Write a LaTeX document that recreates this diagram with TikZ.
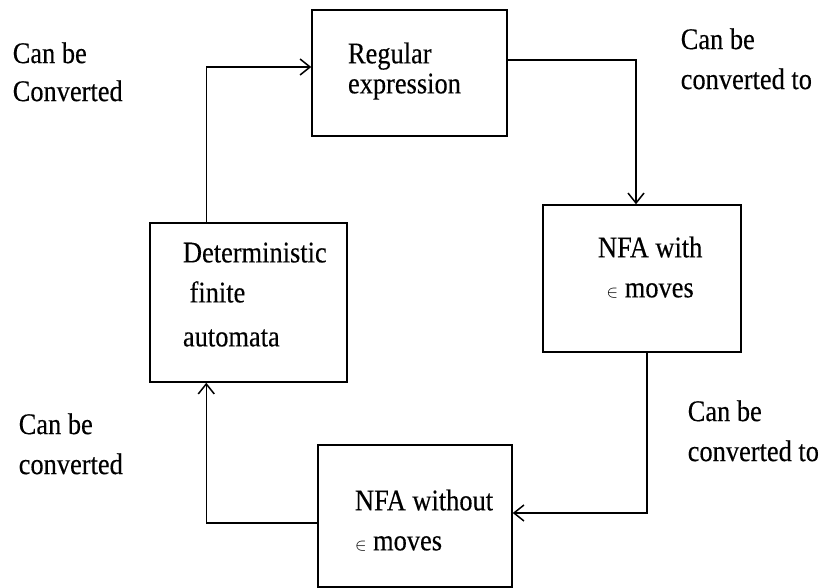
\documentclass[tikz,border=0pt]{standalone}
\usepackage{fontspec}
\setmainfont{Liberation Serif}[FakeStretch=0.88,FakeBold=0.3]
\usetikzlibrary{positioning,arrows.meta}

\newcommand{\eps}{{\fontsize{18}{18}\selectfont$\in$}}

\begin{document}
\begin{tikzpicture}[x=1pt,y=-1pt,
					>={Straight Barb[length=10pt,width=16pt]},
					line width=1.5pt,
					font=\fontsize{30}{40}\selectfont,
					box node/.style={draw,rectangle,inner sep=0pt},
					box text/.style={anchor=north west,align=left,inner sep=0pt},
					note node/.style={anchor=north west,align=left,inner sep=0pt}]

  \useasboundingbox (0,0) rectangle (821,588);

  \node[box node,minimum width=195pt,minimum height=126pt] (regex) at (409.5,73) {};
  \node[box node,minimum width=198pt,minimum height=147pt] (nfaeps) at (642,278.5) {};
  \node[box node,minimum width=197pt,minimum height=159pt] (dfa) at (248.5,302.5) {};
  \node[box node,minimum width=194pt,minimum height=142pt] (nfanoeps) at (415,516) {};

  \node[box text] (regextext) [below right=32.5pt and 36pt of regex.north west] {Regular\\[-10pt]expression};
  \node[box text,align=center] (nfaepstext) [below right=31.5pt and 55pt of nfaeps.north west] {NFA with\\\eps{} moves};
  \node[box text] (dfatext) [below right=19.5pt and 33pt of dfa.north west] {Deterministic\\\ finite\\[4pt]automata};
  \node[box text] (nfanoepstext) [below right=44.5pt and 37pt of nfanoeps.north west] {NFA without\\\eps{} moves};

  \node[note node] (conv1) at (12,41.5) {Can be\\[-2pt]Converted};
  \node[note node] (conv2) at (680,27.5) {Can be\\converted to};
  \node[note node] (conv3) at (687,399.5) {Can be\\converted to};
  \node[note node] (conv4) at (18,412.5) {Can be\\converted};

  \draw[->] ([xshift=57pt]dfa.north west) |- ([yshift=6pt]regex.west);
  \draw[->] ([yshift=13pt]regex.east) -| ([xshift=-6pt]nfaeps.north);
  \draw[->] ([xshift=5pt]nfaeps.south) |- ([yshift=3pt]nfanoeps.east);
  \draw[->] ([yshift=-7pt]nfanoeps.west) -| ([xshift=57pt]dfa.south west);
\end{tikzpicture}
\end{document}
